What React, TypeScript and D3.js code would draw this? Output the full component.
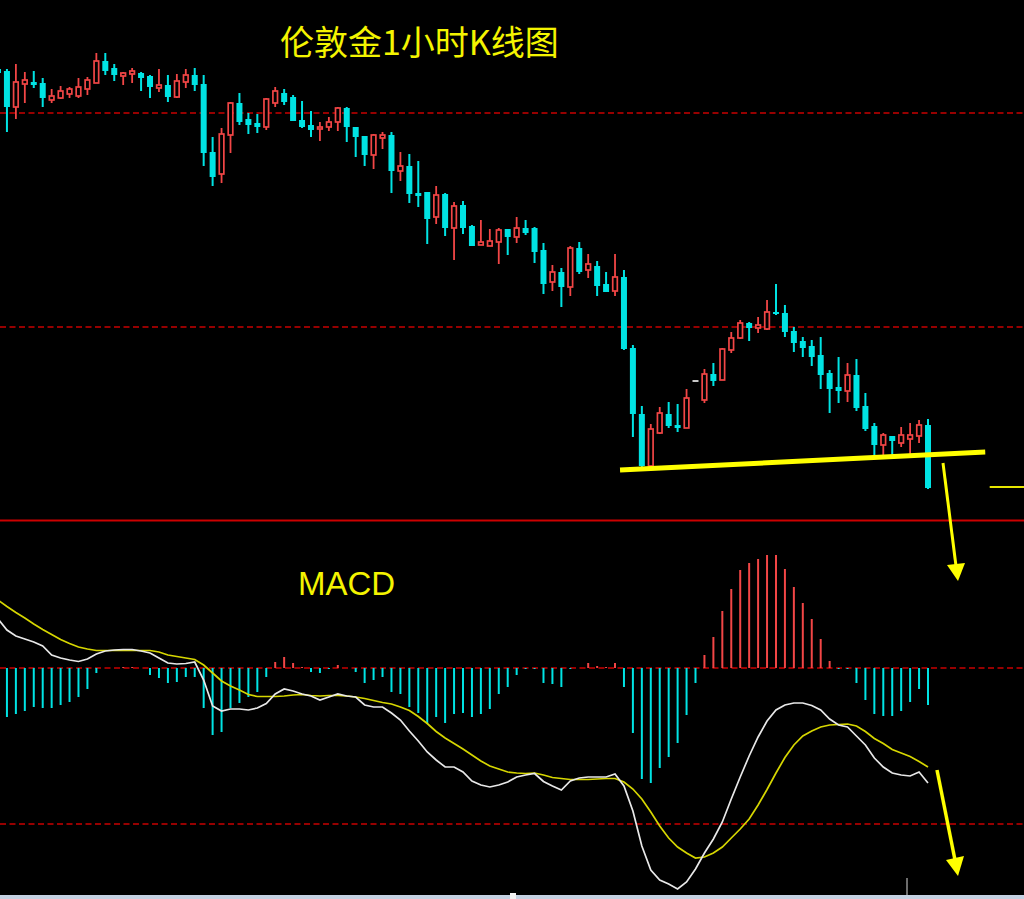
import React from 'react';
import * as d3 from 'd3';

// ---- price candles (伦敦金 1H) ----
const OPEN = [
  1323.1, 1322.9, 1319.3, 1321.6, 1321.8, 1321.7, 1320.0, 1320.2, 1320.6, 1320.4,
  1321.1, 1321.7, 1323.9, 1323.2, 1322.4, 1322.6, 1322.7, 1322.4, 1321.2, 1321.5,
  1320.3, 1321.8, 1322.5, 1321.6, 1314.8, 1312.6, 1316.5, 1319.7, 1318.1, 1317.7,
  1317.3, 1319.7, 1320.7, 1320.3, 1318.0, 1317.5, 1317.1, 1317.3, 1317.8, 1319.2,
  1317.3, 1316.4, 1314.5, 1316.2, 1316.5, 1312.9, 1313.4, 1310.7, 1310.8, 1308.3,
  1310.6, 1307.2, 1309.5, 1307.4, 1305.5, 1305.4, 1305.8, 1307.1, 1306.3, 1307.2,
  1307.2, 1305.0, 1301.8, 1302.8, 1301.3, 1305.2, 1303.0, 1303.4, 1301.6, 1300.9,
  1302.3, 1295.2, 1288.6, 1283.4, 1286.7, 1288.6, 1287.5, 1287.2, 1291.9, 1290.0,
  1292.6, 1292.0, 1295.0, 1296.2, 1297.7, 1297.2, 1297.1, 1298.8, 1298.7, 1296.9,
  1295.9, 1295.4, 1294.5, 1292.7, 1291.3, 1290.9, 1292.5, 1289.4, 1287.4, 1285.5,
  1286.4, 1285.7, 1286.1, 1286.4, 1287.5,
];
const HIGH = [
  1323.2, 1323.1, 1323.6, 1322.8, 1322.9, 1322.2, 1321.1, 1321.4, 1321.3, 1322.2,
  1322.3, 1324.7, 1324.7, 1323.6, 1322.8, 1323.2, 1322.8, 1322.5, 1323.1, 1322.5,
  1322.6, 1323.1, 1323.2, 1322.5, 1316.3, 1317.2, 1319.8, 1320.7, 1318.7, 1318.6,
  1320.2, 1321.3, 1321.1, 1320.5, 1319.9, 1318.9, 1317.8, 1318.3, 1319.3, 1319.3,
  1317.3, 1316.4, 1316.6, 1316.8, 1316.8, 1314.8, 1314.6, 1313.9, 1310.8, 1311.4,
  1310.7, 1309.8, 1309.9, 1307.5, 1308.0, 1307.1, 1307.2, 1307.1, 1308.3, 1308.0,
  1307.3, 1305.7, 1303.5, 1303.2, 1305.4, 1305.8, 1304.6, 1303.9, 1302.8, 1304.6,
  1303.0, 1295.5, 1289.4, 1287.6, 1289.3, 1289.8, 1289.6, 1291.1, 1291.9, 1293.1,
  1293.7, 1295.2, 1296.8, 1298.0, 1297.8, 1298.3, 1300.0, 1301.6, 1299.5, 1297.3,
  1296.3, 1296.0, 1296.3, 1293.0, 1294.3, 1293.7, 1294.1, 1290.7, 1287.7, 1286.7,
  1286.4, 1287.3, 1287.7, 1288.0, 1288.1,
];
const LOW = [
  1322.5, 1316.8, 1318.1, 1319.7, 1321.2, 1319.3, 1319.7, 1320.1, 1320.2, 1320.2,
  1320.5, 1321.7, 1322.5, 1321.9, 1321.5, 1321.7, 1320.9, 1320.2, 1320.8, 1319.8,
  1320.2, 1321.2, 1320.9, 1313.4, 1311.4, 1311.7, 1314.7, 1317.5, 1316.6, 1316.7,
  1317.0, 1319.3, 1319.5, 1317.9, 1317.2, 1316.3, 1315.9, 1316.9, 1316.9, 1315.8,
  1314.3, 1313.4, 1313.1, 1315.1, 1310.7, 1311.9, 1309.7, 1309.3, 1305.6, 1307.6,
  1306.4, 1304.0, 1306.6, 1305.4, 1305.5, 1305.4, 1303.6, 1304.5, 1305.7, 1306.5,
  1303.7, 1300.6, 1300.9, 1299.3, 1300.4, 1302.6, 1302.2, 1300.4, 1300.8, 1300.4,
  1295.0, 1286.3, 1283.3, 1283.3, 1286.6, 1287.2, 1286.8, 1287.2, 1291.9, 1289.7,
  1291.4, 1292.0, 1294.7, 1296.1, 1295.9, 1296.7, 1297.0, 1298.5, 1296.3, 1294.8,
  1294.3, 1293.4, 1291.1, 1288.7, 1289.7, 1289.8, 1288.9, 1286.9, 1284.4, 1284.4,
  1284.4, 1285.3, 1284.5, 1285.7, 1281.1,
];
const CLOSE = [
  1322.7, 1319.3, 1321.8, 1322.0, 1321.5, 1320.2, 1320.4, 1320.9, 1321.1, 1321.3,
  1322.0, 1323.9, 1322.9, 1322.5, 1322.7, 1322.9, 1322.2, 1321.3, 1321.5, 1320.3,
  1321.9, 1322.5, 1321.5, 1314.7, 1312.3, 1316.6, 1319.7, 1317.8, 1317.5, 1317.3,
  1320.1, 1320.9, 1319.8, 1317.9, 1317.3, 1317.0, 1317.3, 1317.8, 1319.2, 1317.3,
  1316.3, 1314.5, 1316.5, 1316.5, 1312.9, 1313.4, 1310.6, 1310.4, 1308.1, 1310.5,
  1307.2, 1309.4, 1307.2, 1305.4, 1305.8, 1305.9, 1307.0, 1306.3, 1307.2, 1306.7,
  1304.8, 1301.6, 1302.8, 1301.3, 1305.2, 1302.8, 1303.6, 1301.4, 1300.8, 1302.3,
  1295.1, 1288.6, 1283.4, 1287.1, 1288.7, 1287.4, 1287.2, 1290.2, 1291.9, 1292.6,
  1291.9, 1295.1, 1296.2, 1297.7, 1297.2, 1297.5, 1298.8, 1298.6, 1296.8, 1295.7,
  1295.2, 1294.3, 1292.5, 1291.1, 1290.9, 1292.5, 1289.2, 1287.1, 1285.5, 1286.5,
  1285.9, 1286.5, 1286.5, 1287.5, 1281.2,
];

// ---- MACD ----
const HIST = [
  0, -4.9, -4.6, -4.3, -3.9, -4.0, -4.0, -3.7, -3.4, -2.9,
  -2.1, -0.5, 0, 0, 0.1, 0.1, 0, -0.7, -1.0, -1.5,
  -1.4, -0.9, -0.9, -4.0, -6.7, -6.4, -4.0, -3.5, -2.9, -2.4,
  -0.9, 0.6, 1.1, 0.5, 0.1, -0.4, -0.5, -0.1, 0.3, 0,
  -0.4, -1.5, -1.2, -0.9, -2.4, -2.6, -3.9, -4.5, -5.6, -4.9,
  -5.5, -4.6, -4.5, -4.9, -4.6, -4.1, -2.6, -1.9, -0.7, -0.1,
  -0.1, -1.5, -1.6, -1.9, -0.1, 0, 0.5, 0.2, 0.1, 0.5,
  -1.9, -6.5, -11.1, -11.5, -10.0, -8.9, -7.5, -4.7, -1.5, 1.3,
  3.1, 5.7, 7.9, 9.8, 10.5, 10.9, 11.3, 11.3, 9.9, 8.1,
  6.5, 4.9, 2.9, 0.7, -0.1, -0.1, -1.5, -3.2, -4.6, -4.8,
  -4.8, -4.3, -3.4, -2.1, -3.7,
];
const DIF = [
  4.9, 3.8, 3.2, 2.9, 2.6, 2.2, 1.3, 1.0, 0.8, 0.65,
  0.9, 1.4, 1.7, 1.8, 1.85, 1.85, 1.7, 1.5, 1.0, 0.5,
  0.4, 0.45, 0.6, -1.2, -3.8, -4.3, -4.1, -4.1, -4.2, -4.0,
  -3.55, -2.6, -2.1, -2.3, -2.6, -2.8, -3.2, -2.9, -2.6, -2.8,
  -2.9, -3.7, -3.9, -3.9, -4.5, -5.2, -6.3, -7.3, -8.4, -9.2,
  -9.9, -9.9, -10.4, -11.3, -11.7, -11.9, -11.7, -11.4, -10.9, -10.7,
  -10.55, -11.35, -11.8, -12.2, -11.3, -11.0, -10.9, -10.9, -10.9, -10.6,
  -11.8, -14.3, -17.8, -20.2, -21.2, -21.6, -22.1, -21.4, -20.1, -18.5,
  -17.1, -15.4, -13.1, -10.9, -8.8, -6.9, -5.3, -4.2, -3.7, -3.5,
  -3.5, -3.75, -4.2, -5.1, -5.7, -5.9, -6.8, -7.7, -9.0, -9.9,
  -10.5, -10.7, -10.8, -10.4, -11.5,
];
const DEA = [
  6.8, 6.15, 5.55, 5.0, 4.4, 3.85, 3.35, 2.85, 2.45, 2.1,
  1.9, 1.75, 1.75, 1.75, 1.75, 1.75, 1.75, 1.75, 1.6, 1.3,
  1.15, 1.0, 0.85, 0.3, -0.5, -1.3, -1.8, -2.2, -2.65, -2.85,
  -2.85, -2.85, -2.8, -2.7, -2.65, -2.75, -2.8, -2.75, -2.75, -2.8,
  -2.9, -3.05, -3.25, -3.45, -3.6, -3.9, -4.25, -4.85, -5.55, -6.35,
  -7.0, -7.55, -8.1, -8.7, -9.3, -9.8, -10.1, -10.4, -10.5, -10.55,
  -10.5, -10.7, -10.95, -11.05, -11.15, -11.15, -11.15, -11.1, -11.05, -11.05,
  -11.4, -12.1, -13.1, -14.4, -15.8, -17.0, -17.9, -18.5, -19.0, -18.9,
  -18.5, -17.9, -17.0, -16.1, -15.1, -13.7, -12.15, -10.5, -8.95, -7.7,
  -6.8, -6.3, -5.9, -5.7, -5.65, -5.6, -5.8, -6.35, -7.05, -7.55,
  -8.15, -8.5, -8.85, -9.35, -9.9,
];

const PRICE_GRID = [1318.7, 1297.3];
const MACD_GRID = [0, -15.6];
// neckline drawn on the chart (index, price)
const TREND = [
  { i: 69.56, p: 1283.0 },
  { i: 110.4, p: 1284.8 },
];
const SHORT_LINE = [
  { i: 110.9, p: 1281.3 },
  { i: 114.8, p: 1281.3 },
];

const TITLE = '伦敦金1小时K线图';
const MACD_LABEL = 'MACD';

const CYAN = '#00e3e3';
const RED = '#f24646';
const GRID = '#960000';
const YELLOW = '#ffff00';

export default function App() {
  const W = 1024;
  const H = 899;
  const x = d3.scaleLinear().domain([0, 104]).range([-2, 928]);
  const yP = d3.scaleLinear().domain([1330, 1280]).range([0, 500]);
  const yM = d3.scaleLinear().domain([0, -10]).range([668, 768]);

  const difPath = d3.line<number>().x((_, i) => x(i)).y((d) => yM(d))(DIF) || '';
  const deaPath = d3.line<number>().x((_, i) => x(i)).y((d) => yM(d))(DEA) || '';
  const trendPath =
    d3.line<{ i: number; p: number }>().x((d) => x(d.i)).y((d) => yP(d.p))(TREND) || '';
  const shortPath =
    d3.line<{ i: number; p: number }>().x((d) => x(d.i)).y((d) => yP(d.p))(SHORT_LINE) || '';

  const candles = OPEN.map((o, i) => {
    const c = CLOSE[i];
    const h = HIGH[i];
    const l = LOW[i];
    const cx = x(i);
    const top = yP(Math.max(o, c));
    const bot = yP(Math.min(o, c));
    if (o === c && h === l) {
      return <rect key={i} x={cx - 3} y={top - 1} width={6} height={2} fill="#c8c8c8" />;
    }
    if (c > o) {
      return (
        <g key={i}>
          <line x1={cx} x2={cx} y1={yP(h)} y2={top} stroke={RED} strokeWidth={1.8} />
          <line x1={cx} x2={cx} y1={bot} y2={yP(l)} stroke={RED} strokeWidth={1.8} />
          <rect
            x={cx - 2.3}
            y={top}
            width={4.6}
            height={Math.max(bot - top, 1.5)}
            fill="#000"
            stroke={RED}
            strokeWidth={1.7}
          />
        </g>
      );
    }
    return (
      <g key={i}>
        <line x1={cx} x2={cx} y1={yP(h)} y2={yP(l)} stroke={CYAN} strokeWidth={2} />
        <rect x={cx - 3} y={top} width={6} height={Math.max(bot - top, 2)} fill={CYAN} />
      </g>
    );
  });

  const bars = HIST.map((v, i) => {
    if (v === 0) return null;
    const y0 = yM(0);
    const y1 = yM(v);
    return (
      <line
        key={i}
        x1={x(i)}
        x2={x(i)}
        y1={y0}
        y2={y1}
        stroke={v > 0 ? RED : CYAN}
        strokeWidth={2}
      />
    );
  });

  return (
    <div style={{ position: 'fixed', left: 0, top: 0, width: W, height: H }}>
      <svg width={W} height={H} style={{ display: 'block', background: '#000' }}>
        <rect x={0} y={0} width={W} height={H} fill="#000" />
        {PRICE_GRID.map((p) => (
          <line key={p} x1={0} x2={W} y1={yP(p)} y2={yP(p)} stroke={GRID} strokeWidth={2} strokeDasharray="6,3.5" />
        ))}
        {MACD_GRID.map((v) => (
          <line key={v} x1={0} x2={W} y1={yM(v)} y2={yM(v)} stroke={GRID} strokeWidth={2} strokeDasharray="6,3.5" />
        ))}
        <text
          x={280}
          y={55}
          fill="#f4f400"
          fontSize={34}
          fontFamily="'Noto Sans CJK SC', sans-serif"
        >
          {TITLE}
        </text>
        {candles}
        <path d={trendPath} stroke={YELLOW} strokeWidth={5} fill="none" />
        <path d={shortPath} stroke="#e6e600" strokeWidth={2} fill="none" />
        <line x1={0} x2={W} y1={520.5} y2={520.5} stroke="#cc0000" strokeWidth={2} />
        <text
          x={298}
          y={595}
          fill="#f4f400"
          fontSize={33}
          fontFamily="'Liberation Sans', Arial, sans-serif"
        >
          {MACD_LABEL}
        </text>
        {bars}
        <path d={deaPath} stroke="#d6d600" strokeWidth={1.7} fill="none" />
        <path d={difPath} stroke="#e8e8e8" strokeWidth={1.7} fill="none" />
        {/* arrows */}
        <line x1={943} y1={463} x2={956} y2={566} stroke={YELLOW} strokeWidth={3} />
        <polygon points="947,565 965,563 958,581" fill={YELLOW} />
        <line x1={937} y1={770} x2={955} y2={860} stroke={YELLOW} strokeWidth={3.5} />
        <polygon points="946,860 964,856 958,876" fill={YELLOW} />
        {/* bottom scroll bar */}
        <line x1={907} x2={907} y1={878} y2={895} stroke="#909090" strokeWidth={1.5} />
        <rect x={0} y={895} width={W} height={4} fill="#c5d1e2" />
        <rect x={510} y={893} width={6} height={6} fill="#f2f2f2" />
      </svg>
    </div>
  );
}
